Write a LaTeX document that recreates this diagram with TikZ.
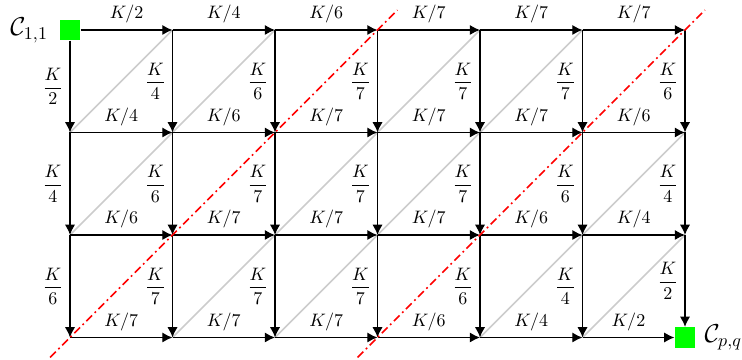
\documentclass[tikz,border=0pt]{standalone}
\usepackage{amsmath}
\usepackage{xcolor}
\usepackage{tikz}
\usetikzlibrary{arrows.meta,positioning}

\begin{document}
\begin{tikzpicture}[
    corner/.style={fill=green, minimum size=0.4cm, inner sep=0pt},
    arrow/.style={-{Latex[length=2mm, width=2mm]}, thick},
    diag/.style={gray!40, thick},
    cut/.style={red, thick, dash pattern=on 4.5pt off 2pt on 1pt off 2pt, shorten <=-0.55cm, shorten >=-0.55cm}
]
\useasboundingbox (-1.366,0.585) rectangle (13.112,-6.439);
% grid points
\foreach \r in {0,...,3}
  \foreach \c in {0,...,6}
    \coordinate (n-\r-\c) at (2*\c,-2*\r);
\node[corner] (n-0-0) at (0,0) {};
\node[corner] (n-3-6) at (12,-6) {};
\node[left=0.1cm of n-0-0, font=\Large] (c11) {$\mathcal{C}_{1,1}$};
\node[right=0.05cm of n-3-6, font=\Large] (cpq) {$\mathcal{C}_{p,q}$};
% diagonals (skipped where the cuts run)
\foreach \r [count=\s] in {0,1,2}
  \foreach \c [count=\d] in {0,...,5} {
    \pgfmathtruncatemacro{\m}{\r+\c}
    \ifnum\m=2 \else\ifnum\m=5 \else
      \draw[diag] (n-\s-\c) -- (n-\r-\d);
    \fi\fi
  }
% horizontal edges
\foreach \r in {0,...,3}
  \foreach \c [count=\d] in {0,...,5} {
    \pgfmathtruncatemacro{\k}{{2,4,6,7,7,7,6,4,2}[\r+\c]}
    \draw[arrow] (n-\r-\c) -- node[above] (h-\r-\c) {$K/\k$} (n-\r-\d);
  }
% vertical edges
\foreach \r [count=\s] in {0,1,2}
  \foreach \c in {0,...,6} {
    \pgfmathtruncatemacro{\k}{{2,4,6,7,7,7,6,4,2}[\r+\c]}
    \draw[arrow] (n-\r-\c) -- node[left] (v-\r-\c) {$\dfrac{K}{\k}$} (n-\s-\c);
  }
% cuts
\draw[cut] (n-3-0) -- (n-0-3);
\draw[cut] (n-3-3) -- (n-0-6);
\end{tikzpicture}
\end{document}
